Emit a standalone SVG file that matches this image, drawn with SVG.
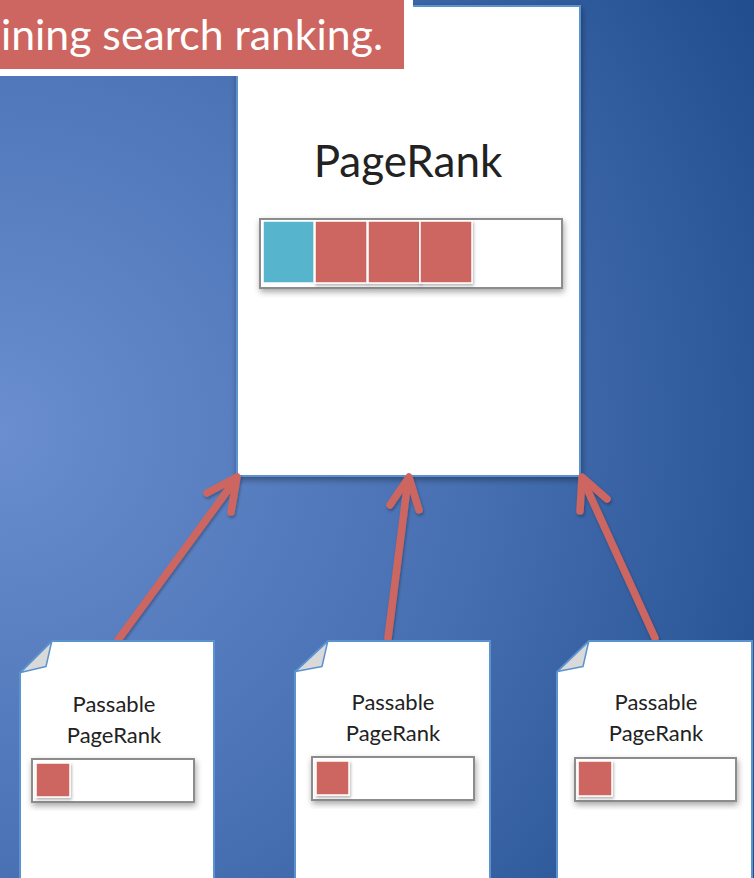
<svg xmlns="http://www.w3.org/2000/svg" width="754" height="878" viewBox="0 0 754 878">
<defs>
<radialGradient id="bg" cx="0" cy="430" r="900" gradientUnits="userSpaceOnUse">
<stop offset="0" stop-color="#6a8ed0"/>
<stop offset="0.55" stop-color="#456eb0"/>
<stop offset="1" stop-color="#1d4a8b"/>
</radialGradient>
<filter id="sh" x="-10%" y="-10%" width="130%" height="130%">
<feDropShadow dx="1" dy="3" stdDeviation="3" flood-color="#000" flood-opacity="0.35"/>
</filter>
<filter id="ash" x="-20%" y="-20%" width="140%" height="140%">
<feDropShadow dx="1" dy="2" stdDeviation="1.5" flood-color="#000" flood-opacity="0.3"/>
</filter>
<style>
.page{fill:#fff;stroke:#5b93cf;stroke-width:2}
.flap{fill:#d9d9d9;stroke:#5b93cf;stroke-width:1.5;stroke-linejoin:round}
.bar{fill:#fff;stroke:#8c8c8c;stroke-width:2}
.red{fill:#cd6660;stroke:#fff;stroke-width:1.5}
.cyan{fill:#56b4cc;stroke:#fff;stroke-width:1.5}
.lbl{font-family:"Lato","Open Sans",sans-serif;fill:#222;text-anchor:middle}
.arr{fill:none;stroke:#cd6660;stroke-width:7.5;stroke-linecap:round;stroke-linejoin:round}
</style>
</defs>
<rect x="0" y="0" width="754" height="878" fill="url(#bg)"/>

<g id="main-page">
<rect class="page" x="237" y="6" width="343" height="470" filter="url(#sh)"/>
<text class="lbl" x="408" y="177" font-size="44">PageRank</text>
<rect class="bar" x="260" y="219" width="302" height="69" filter="url(#sh)"/>
<rect class="cyan" x="263" y="221" width="51" height="62"/>
<rect class="red" x="315" y="221" width="52" height="62" filter="url(#ash)"/>
<rect class="red" x="368" y="221" width="52" height="62" filter="url(#ash)"/>
<rect class="red" x="420" y="221" width="52" height="62" filter="url(#ash)"/>
</g>

<g id="banner">
<rect x="0" y="0" width="413" height="76" fill="#fff"/>
<rect x="0" y="0" width="404" height="69" fill="#cd6660"/>
<text x="8" y="-11" font-family="Lato,'Open Sans',sans-serif" font-size="44" fill="#fff">g</text>
<text x="1" y="50" font-family="Lato,'Open Sans',sans-serif" font-size="42" fill="#fff" textLength="382" lengthAdjust="spacingAndGlyphs">ining search ranking.</text>
</g>

<g id="connectors">
<g filter="url(#ash)">
<path class="arr" d="M118 640 L236 479"/>
<path class="arr" d="M207 493 L237 477 L231 512"/>
<path class="arr" d="M388 638 L408 480"/>
<path class="arr" d="M390 505 L409 477 L419 510"/>
<path class="arr" d="M655 638 L583 480"/>
<path class="arr" d="M580 511 L582 477 L607 499"/>
</g>
</g>

<g id="doc1">
<path class="page" d="M52 641 L214 641 L214 890 L20 890 L20 673 Z"/>
<path class="flap" d="M20.5 672.5 L51.7 641.5 L46 666.5 Z"/>
<text class="lbl" x="114" y="712" font-size="22">Passable</text>
<text class="lbl" x="114" y="743" font-size="22">PageRank</text>
<rect class="bar" x="32" y="759" width="162" height="43" filter="url(#sh)"/>
<rect class="red" x="36" y="763" width="34" height="34" filter="url(#ash)"/>
</g>

<g id="doc2">
<path class="page" d="M328 641 L490 641 L490 890 L295 890 L295 672 Z"/>
<path class="flap" d="M295.5 671.5 L327.7 641.5 L322 666.5 Z"/>
<text class="lbl" x="393" y="710" font-size="22">Passable</text>
<text class="lbl" x="393" y="741" font-size="22">PageRank</text>
<rect class="bar" x="312" y="757" width="162" height="43" filter="url(#sh)"/>
<rect class="red" x="316" y="761" width="33" height="34" filter="url(#ash)"/>
</g>

<g id="doc3">
<path class="page" d="M589 641 L752 641 L752 890 L557 890 L557 672 Z"/>
<path class="flap" d="M557.5 671.5 L588.7 641.5 L583 666.5 Z"/>
<text class="lbl" x="656" y="710" font-size="22">Passable</text>
<text class="lbl" x="656" y="741" font-size="22">PageRank</text>
<rect class="bar" x="575" y="758" width="161" height="43" filter="url(#sh)"/>
<rect class="red" x="578" y="761" width="34" height="35" filter="url(#ash)"/>
</g>
</svg>
